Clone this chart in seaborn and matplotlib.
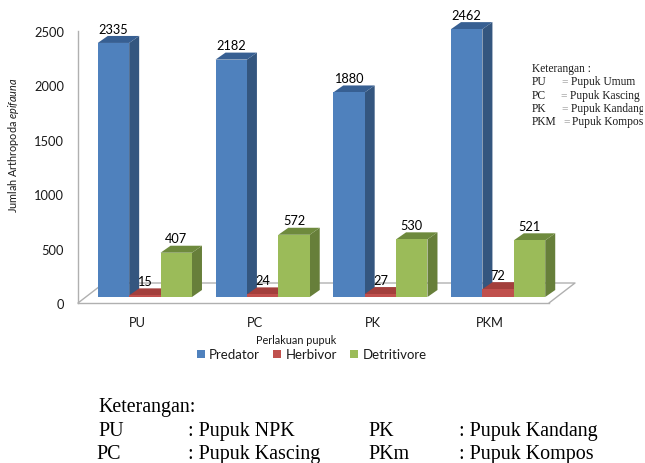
import matplotlib
matplotlib.use("Agg")
import matplotlib.pyplot as plt
import pandas as pd
import seaborn as sns
from matplotlib.patches import Polygon
from matplotlib.transforms import Affine2D, Bbox, IdentityTransform

plots = ["PU", "PC", "PK", "PKM"]
predator = [2335, 2182, 1880, 2462]
herbivor = [15, 24, 27, 72]
detritivore = [407, 572, 530, 521]
group_names = ["Predator", "Herbivor", "Detritivore"]
front_colors = ["#4F81BD", "#C0504D", "#9BBB59"]
side_colors = ["#34567F", "#7F3331", "#677F3A"]
top_colors = ["#375F92", "#A33F3C", "#6E8A3D"]

sns.set_theme(style="white")
plt.rcParams["font.family"] = ["Lato", "DejaVu Sans"]
plt.rcParams["mathtext.fontset"] = "custom"
plt.rcParams["mathtext.it"] = "Lato:italic"
plt.rcParams["mathtext.rm"] = "Lato"

W, H = 645, 464
AXIS_GRAY = "#B0B0B0"
TEXT = "#1A1A1A"
fig = plt.figure(figsize=(W / 100, H / 100), dpi=100)
ax = fig.add_axes([78 / W, (H - 304) / H, 471 / W, 272 / H])

frame = pd.DataFrame({
    "plot": plots * 3,
    "group": [g for g in group_names for _ in plots],
    "count": predator + herbivor + detritivore,
})
sns.barplot(data=frame, x="plot", y="count", hue="group", hue_order=group_names,
            palette=front_colors, saturation=1, width=0.8, gap=0, order=plots,
            edgecolor="none", linewidth=0, ax=ax)
ax.set_xlim(-0.5, 3.5)
ax.set_ylim(0, 2500)
fig.canvas.draw()

# Pixel offsets that give the bars and floor their extruded look
SHIFT_X, SHIFT_Y = 8, 6
DEPTH_X, DEPTH_Y = 10, 7
FLOOR_X, FLOOR_Y = 26, 20

shift = Affine2D().translate(SHIFT_X, SHIFT_Y)
display = IdentityTransform()

# Floor outline behind the bars
(x0, y0), (x1, _) = ax.transData.transform([(-0.5, 0), (3.5, 0)])
ax.add_artist(plt.Line2D(
    [x0, x0 + FLOOR_X, x1 + FLOOR_X, x1],
    [y0, y0 + FLOOR_Y, y0 + FLOOR_Y, y0],
    transform=display, color=AXIS_GRAY, lw=1.0, zorder=0.5, clip_on=False))

for group_index, container in enumerate(ax.containers):
    for bar, value in zip(container, container.datavalues):
        base_z = 2 + group_index
        bar.set_transform(ax.transData + shift)
        bar.set_clip_on(False)
        bar.set_zorder(base_z + 0.2)
        (l, b), (r, t) = (ax.transData + shift).transform(
            [(bar.get_x(), 0), (bar.get_x() + bar.get_width(), value)])
        side = Polygon([(r, b), (r + DEPTH_X, b + DEPTH_Y), (r + DEPTH_X, t + DEPTH_Y), (r, t)],
                       closed=True, transform=display, fc=side_colors[group_index],
                       ec="none", zorder=base_z)
        top = Polygon([(l, t), (l + DEPTH_X, t + DEPTH_Y), (r + DEPTH_X, t + DEPTH_Y), (r, t)],
                      closed=True, transform=display, fc=top_colors[group_index],
                      ec="none", zorder=base_z + 0.1)
        for face in (side, top):
            face.set_clip_on(False)
            ax.add_artist(face)
        ax.annotate(f"{value:.0f}", xy=(bar.get_x() + bar.get_width() / 2, value),
                    xytext=(SHIFT_X * 0.72, (SHIFT_Y + 14.4) * 0.72),
                    textcoords="offset points", ha="center", va="center",
                    fontsize=9.2, color="black", zorder=10, annotation_clip=False)

sns.despine(ax=ax, top=True, right=True)
for name in ("left", "bottom"):
    ax.spines[name].set_color(AXIS_GRAY)
    ax.spines[name].set_linewidth(1.0)
ax.patch.set_alpha(0)
ax.set_yticks([0, 500, 1000, 1500, 2000, 2500])
ax.tick_params(axis="y", length=0, pad=10, labelsize=9.3, labelcolor=TEXT)
ax.tick_params(axis="x", length=0, pad=9.5, labelsize=9.3, labelcolor=TEXT)
ax.set_xlabel("")
ax.set_ylabel("")

fig.text(296 / W, 1 - 341 / H, "Perlakuan pupuk", ha="center", va="center",
         fontsize=7.8, color=TEXT)
fig.text(14 / W, 1 - 145.5 / H, r"Jumlah Arthropoda $\it{epifauna}$", rotation=90,
         ha="center", va="center", fontsize=7.8, color=TEXT)

handles = ax.get_legend().legend_handles
ax.legend(handles, group_names, loc="center", bbox_to_anchor=(311.5 / W, 1 - 355.5 / H),
          bbox_transform=fig.transFigure, ncol=3, frameon=False, fontsize=9.5,
          handlelength=0.62, handleheight=0.62, handletextpad=0.32, columnspacing=1.0,
          labelcolor=TEXT, borderpad=0, borderaxespad=0)

# Small key to the right of the bars, cut off at the panel edge
small_key = [
    (532, 72, "Keterangan :", TEXT),
    (532, 85, "PU", TEXT), (561, 85, "=", "#999999"), (571, 85, "Pupuk Umum", TEXT),
    (532, 99, "PC", TEXT), (560, 99, "=", "#999999"), (570, 99, "Pupuk Kascing", TEXT),
    (532, 112, "PK", TEXT), (561, 112, "=", "#999999"), (571, 112, "Pupuk Kandang", TEXT),
    (532, 125, "PKM", TEXT), (563, 125, "=", "#999999"), (572.5, 125, "Pupuk Kompos", TEXT),
]
panel_clip = Bbox.from_extents(0, 0, 643, H)
for x, y, label, colour in small_key:
    t = fig.text(x / W, 1 - y / H, label, family="Liberation Serif", fontsize=8.3,
                 color=colour, va="baseline", ha="left")
    t.set_clip_box(panel_clip)
    t.set_clip_on(True)

# Larger key under the chart
large_key = [
    (98, 412, "Keterangan:"),
    (98, 436, "PU"), (188, 436, ": Pupuk NPK"), (368, 436, "PK"), (459, 436, ": Pupuk Kandang"),
    (96, 459, "PC"), (188, 459, ": Pupuk Kascing"), (368, 459, "PKm"), (459, 459, ": Pupuk Kompos"),
]
for x, y, label in large_key:
    fig.text(x / W, 1 - y / H, label, family="Liberation Serif", fontsize=14.4,
             color="black", va="baseline", ha="left")

fig.savefig("out.png", dpi=100)
